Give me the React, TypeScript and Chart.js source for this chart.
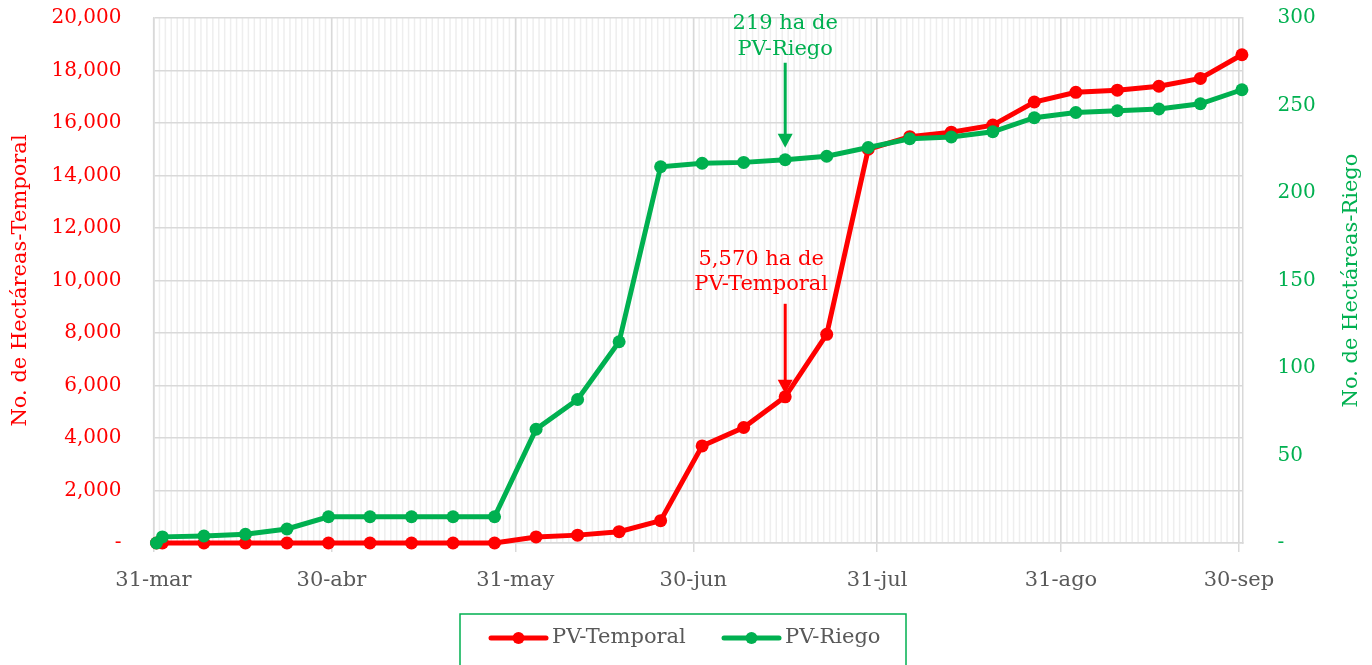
import React, { useEffect, useRef } from 'react';
import { Chart, registerables } from 'chart.js';

Chart.register(...registerables);

// ---------- DATA ----------
const baseDate = '2024-03-31';

const pointDates = [
  '2024-03-31', '2024-04-01', '2024-04-08', '2024-04-15', '2024-04-22', '2024-04-29',
  '2024-05-06', '2024-05-13', '2024-05-20', '2024-05-27', '2024-06-03', '2024-06-10',
  '2024-06-17', '2024-06-24', '2024-07-01', '2024-07-08', '2024-07-15', '2024-07-22',
  '2024-07-29', '2024-08-05', '2024-08-12', '2024-08-19', '2024-08-26', '2024-09-02',
  '2024-09-09', '2024-09-16', '2024-09-23', '2024-09-30',
];

const temporalHa = [
  0, 0, 0, 0, 0, 0, 0, 0, 0, 0,
  230, 300, 430, 850, 3700, 4400, 5570, 7950, 15000, 15480,
  15650, 15920, 16800, 17170, 17250, 17400, 17700, 18600,
];

const riegoHa = [
  0, 3.5, 4, 5, 8, 15, 15, 15, 15, 15,
  65, 82, 115, 215, 217, 217.5, 219, 221, 226, 231,
  232, 235, 243, 246, 247, 248, 251, 259,
];

const monthTickDates = ['2024-03-31', '2024-04-30', '2024-05-31', '2024-06-30', '2024-07-31', '2024-08-31', '2024-09-30'];
const monthTickLabels = ['31-mar', '30-abr', '31-may', '30-jun', '31-jul', '31-ago', '30-sep'];

const seriesNames = ['PV-Temporal', 'PV-Riego'];
const leftAxisTitle = 'No. de Hectáreas-Temporal';
const rightAxisTitle = 'No. de Hectáreas-Riego';

const annotationDate = '2024-07-15';
const riegoNote = ['219 ha de', 'PV-Riego'];
const temporalNote = ['5,570 ha de', 'PV-Temporal'];

// ---------- STYLE ----------
const RED = '#ff0000';
const GREEN = '#00b050';
const GRAY_TEXT = '#595959';
const GRID = '#d9d9d9';
const MINOR_GRID = '#eeeeee';
const FONT = '"DejaVu Serif", serif';

const dayOf = (d: string) => (Date.parse(d) - Date.parse(baseDate)) / 86400000;

function drawArrow(ctx: CanvasRenderingContext2D, x: number, y0: number, y1: number, color: string) {
  ctx.save();
  ctx.strokeStyle = color;
  ctx.fillStyle = color;
  ctx.lineWidth = 3;
  ctx.beginPath();
  ctx.moveTo(x, y0);
  ctx.lineTo(x, y1 - 12);
  ctx.stroke();
  ctx.beginPath();
  ctx.moveTo(x - 7.5, y1 - 14);
  ctx.lineTo(x + 7.5, y1 - 14);
  ctx.lineTo(x, y1);
  ctx.closePath();
  ctx.fill();
  ctx.restore();
}

const minorGridPlugin = {
  id: 'minorGrid',
  beforeDraw(chart: any) {
    const { ctx, chartArea } = chart;
    const xs = chart.scales.x;
    const last = dayOf(monthTickDates[monthTickDates.length - 1]);
    ctx.save();
    ctx.strokeStyle = MINOR_GRID;
    ctx.lineWidth = 1.5;
    for (let d = 0; d <= last + 0.01; d++) {
      const px = xs.getPixelForValue(d);
      ctx.beginPath();
      ctx.moveTo(px, chartArea.top);
      ctx.lineTo(px, chartArea.bottom);
      ctx.stroke();
    }
    ctx.restore();
  },
};

const overlayPlugin = {
  id: 'overlay',
  afterDraw(chart: any) {
    const { ctx, chartArea } = chart;
    const xs = chart.scales.x;
    const yL = chart.scales.y;
    const yR = chart.scales.yR;
    const idx = pointDates.indexOf(annotationDate);
    const px = xs.getPixelForValue(dayOf(annotationDate) + 0.5);

    ctx.save();
    ctx.font = `21px ${FONT}`;
    ctx.textAlign = 'center';
    ctx.textBaseline = 'middle';

    // Riego annotation
    const gy = yR.getPixelForValue(riegoHa[idx]);
    ctx.fillStyle = GREEN;
    ctx.fillText(riegoNote[0], px, gy - 136);
    ctx.fillText(riegoNote[1], px, gy - 110);
    drawArrow(ctx, px, gy - 97, gy - 12, GREEN);

    // Temporal annotation
    const ry = yL.getPixelForValue(temporalHa[idx]);
    ctx.fillStyle = RED;
    ctx.fillText(temporalNote[0], px - 24, ry - 137);
    ctx.fillText(temporalNote[1], px - 24, ry - 112);
    drawArrow(ctx, px, ry - 93, ry - 3, RED);

    // Axis titles
    const midY = (chartArea.top + chartArea.bottom) / 2;
    ctx.save();
    ctx.translate(13, midY);
    ctx.rotate(-Math.PI / 2);
    ctx.fillStyle = RED;
    ctx.fillText(leftAxisTitle, 0, 0);
    ctx.restore();
    ctx.save();
    ctx.translate(1344, midY);
    ctx.rotate(-Math.PI / 2);
    ctx.fillStyle = GREEN;
    ctx.fillText(rightAxisTitle, 0, 0);
    ctx.restore();

    // Legend
    const boxX = 452, boxY = 606, boxW = 446, boxH = 62;
    ctx.strokeStyle = GREEN;
    ctx.lineWidth = 1.5;
    ctx.strokeRect(boxX, boxY, boxW, boxH);
    const ly = 630;
    const items = [
      { name: seriesNames[0], color: RED, x0: 483 },
      { name: seriesNames[1], color: GREEN, x0: 716 },
    ];
    ctx.textAlign = 'left';
    for (const it of items) {
      ctx.strokeStyle = it.color;
      ctx.fillStyle = it.color;
      ctx.lineWidth = 5;
      ctx.lineCap = 'round';
      ctx.beginPath();
      ctx.moveTo(it.x0, ly);
      ctx.lineTo(it.x0 + 55, ly);
      ctx.stroke();
      ctx.beginPath();
      ctx.arc(it.x0 + 27.5, ly, 6, 0, Math.PI * 2);
      ctx.fill();
      ctx.fillStyle = GRAY_TEXT;
      ctx.fillText(it.name, it.x0 + 61, ly);
    }
    ctx.restore();
  },
};

const fixVertical = (w: number) => (s: any) => {
  s.width = w;
  s.paddingTop = 0;
  s.paddingBottom = 0;
};

export default function App() {
  const ref = useRef<HTMLCanvasElement | null>(null);

  useEffect(() => {
    document.documentElement.style.overflow = 'hidden';
    document.body.style.overflow = 'hidden';
    const canvas = ref.current;
    if (!canvas) return;
    Chart.defaults.font.family = FONT;

    const temporalPts = pointDates.map((d, i) => ({ x: dayOf(d) + 0.5, y: temporalHa[i] }));
    const riegoPts = pointDates.map((d, i) => ({ x: dayOf(d) + 0.5, y: riegoHa[i] }));

    const chart = new Chart(canvas, {
      type: 'line',
      data: {
        datasets: [
          {
            label: seriesNames[0],
            data: temporalPts,
            yAxisID: 'y',
            borderColor: RED,
            backgroundColor: RED,
            pointBackgroundColor: RED,
            pointBorderWidth: 0,
            pointRadius: 6.5,
            borderWidth: 5,
            tension: 0,
            order: 2,
            clip: false as any,
          },
          {
            label: seriesNames[1],
            data: riegoPts,
            yAxisID: 'yR',
            borderColor: GREEN,
            backgroundColor: GREEN,
            pointBackgroundColor: GREEN,
            pointBorderWidth: 0,
            pointRadius: 6.5,
            borderWidth: 5,
            tension: 0,
            order: 1,
            clip: false as any,
          },
        ],
      },
      options: {
        animation: false,
        responsive: false,
        layout: { padding: { top: 10, left: 0, right: 0, bottom: 0 } },
        plugins: {
          legend: { display: false },
          tooltip: { enabled: false },
        },
        scales: {
          x: {
            type: 'linear',
            min: 0,
            max: 183.6,
            afterBuildTicks: (s: any) => {
              s.ticks = monthTickDates.map((d) => ({ value: dayOf(d) }));
            },
            afterFit: (s: any) => {
              s.height = 145;
              s.paddingLeft = 0;
              s.paddingRight = 0;
            },
            ticks: {
              autoSkip: false,
              maxRotation: 0,
              padding: 16,
              color: GRAY_TEXT,
              font: { size: 21 },
              callback: (_v: any, i: number) => monthTickLabels[i],
            },
            grid: { color: GRID, lineWidth: 1.5, tickLength: 9, drawTicks: true },
            border: { color: GRID, width: 1.5 },
          },
          y: {
            position: 'left',
            min: 0,
            max: 20000,
            afterFit: fixVertical(145.5),
            ticks: {
              stepSize: 2000,
              padding: 32,
              color: RED,
              font: { size: 20 },
              callback: (v: any) => (Number(v) === 0 ? '-' : Number(v).toLocaleString('en-US')),
            },
            grid: { color: GRID, lineWidth: 1.5, drawTicks: false },
            border: { color: GRID, width: 1.5 },
          },
          yR: {
            position: 'right',
            min: 0,
            max: 300,
            afterFit: fixVertical(121.5),
            ticks: {
              stepSize: 50,
              padding: 35,
              color: GREEN,
              font: { size: 20 },
              callback: (v: any) => (Number(v) === 0 ? '-' : String(v)),
            },
            grid: { display: false, drawTicks: false },
            border: { color: GRID, width: 1.5 },
          },
        },
      } as any,
      plugins: [minorGridPlugin, overlayPlugin],
    });

    return () => chart.destroy();
  }, []);

  return (
    <div>
      <canvas ref={ref} width={1356} height={680} style={{ display: 'block' }} />
    </div>
  );
}
